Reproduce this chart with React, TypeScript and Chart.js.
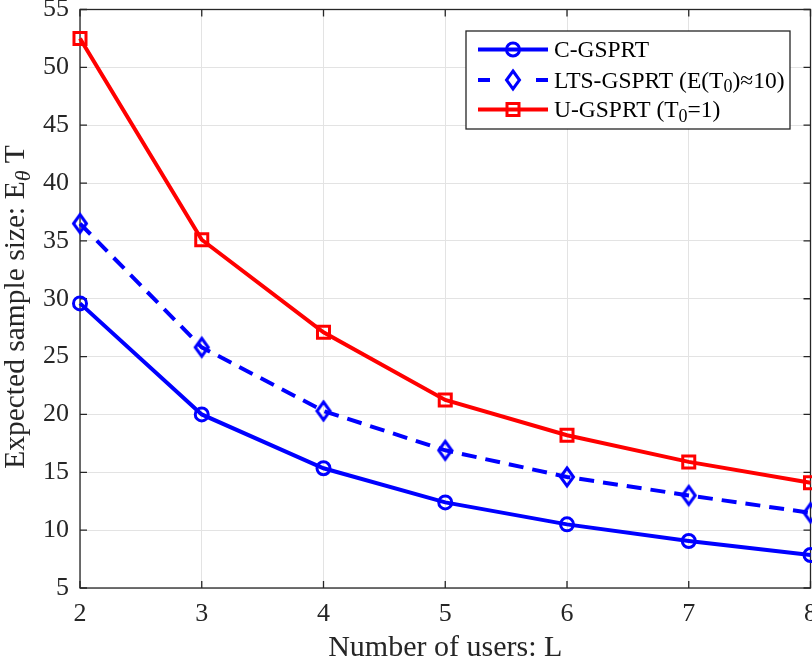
import React, { useEffect, useRef } from "react";
import { Chart, registerables } from "chart.js";

Chart.register(...registerables);

const users = [2, 3, 4, 5, 6, 7, 8];
const cGsprt = [29.6, 20.0, 15.35, 12.4, 10.5, 9.06, 7.85];
const ltsGsprt = [36.5, 25.8, 20.3, 16.9, 14.6, 13.0, 11.5];
const uGsprt = [52.5, 35.1, 27.1, 21.25, 18.2, 15.9, 14.1];
const xTickValues = [2, 3, 4, 5, 6, 7, 8];
const yTickValues = [5, 10, 15, 20, 25, 30, 35, 40, 45, 50, 55];

const FONT = "'Liberation Serif', 'Times New Roman', serif";
const AXIS_COLOR = "#262626";

type Part = { text: string; sub?: boolean; italic?: boolean };

function partFont(p: Part, size: number) {
  const s = p.sub ? Math.round(size * 0.75) : size;
  return `${p.italic ? "italic " : ""}${s}px ${FONT}`;
}

function measureRich(ctx: CanvasRenderingContext2D, parts: Part[], size: number) {
  let w = 0;
  for (const p of parts) {
    ctx.font = partFont(p, size);
    w += ctx.measureText(p.text).width;
  }
  return w;
}

function drawRich(ctx: CanvasRenderingContext2D, parts: Part[], x: number, y: number, size: number) {
  let cx = x;
  ctx.textBaseline = "alphabetic";
  ctx.textAlign = "left";
  for (const p of parts) {
    ctx.font = partFont(p, size);
    ctx.fillText(p.text, cx, p.sub ? y + size * 0.2 : y);
    cx += ctx.measureText(p.text).width;
  }
}

function diamondPath(ctx: CanvasRenderingContext2D, x: number, y: number) {
  ctx.moveTo(x, y - 9);
  ctx.lineTo(x + 6.5, y);
  ctx.lineTo(x, y + 9);
  ctx.lineTo(x - 6.5, y);
  ctx.closePath();
}

function makeDiamondCanvas(color: string) {
  const c = document.createElement("canvas");
  c.width = 22;
  c.height = 28;
  const ctx = c.getContext("2d")!;
  ctx.strokeStyle = color;
  ctx.lineWidth = 3;
  ctx.beginPath();
  diamondPath(ctx, 11, 14);
  ctx.stroke();
  return c;
}

function drawMarker(ctx: CanvasRenderingContext2D, kind: string, x: number, y: number, color: string) {
  ctx.save();
  ctx.strokeStyle = color;
  ctx.lineWidth = 3;
  ctx.setLineDash([]);
  ctx.beginPath();
  if (kind === "circle") {
    ctx.arc(x, y, 6.5, 0, Math.PI * 2);
  } else if (kind === "diamond") {
    diamondPath(ctx, x, y);
  } else {
    ctx.rect(x - 6, y - 6, 12, 12);
  }
  ctx.stroke();
  ctx.restore();
}

const legendItems = [
  { parts: [{ text: "C-GSPRT" }] as Part[], color: "#0000ff", dash: [] as number[], marker: "circle" },
  {
    parts: [{ text: "LTS-GSPRT (E(T" }, { text: "0", sub: true }, { text: ")\u224810)" }] as Part[],
    color: "#0000ff",
    dash: [10, 8],
    marker: "diamond",
  },
  {
    parts: [{ text: "U-GSPRT (T" }, { text: "0", sub: true }, { text: "=1)" }] as Part[],
    color: "#ff0000",
    dash: [] as number[],
    marker: "square",
  },
];

const decorPlugin = {
  id: "decor",
  beforeDatasetsDraw(chart: any) {
    const ctx: CanvasRenderingContext2D = chart.ctx;
    const { left, right, top, bottom } = chart.chartArea;
    const xs = chart.scales.x;
    const ys = chart.scales.y;
    ctx.save();
    ctx.strokeStyle = AXIS_COLOR;
    ctx.lineWidth = 1.3;
    ctx.strokeRect(left, top, right - left, bottom - top);
    const tl = 7;
    ctx.beginPath();
    for (const v of yTickValues) {
      const py = ys.getPixelForValue(v);
      ctx.moveTo(left, py);
      ctx.lineTo(left + tl, py);
      ctx.moveTo(right, py);
      ctx.lineTo(right - tl, py);
    }
    for (const v of xTickValues) {
      const px = xs.getPixelForValue(v);
      ctx.moveTo(px, bottom);
      ctx.lineTo(px, bottom - tl);
      ctx.moveTo(px, top);
      ctx.lineTo(px, top + tl);
    }
    ctx.stroke();
    ctx.restore();
  },
  afterDatasetsDraw(chart: any) {
    const ctx: CanvasRenderingContext2D = chart.ctx;
    const { left, right, top, bottom } = chart.chartArea;
    ctx.save();
    // Legend
    const lx = 466, ly = 31, lw = 324, lh = 98;
    ctx.fillStyle = "#ffffff";
    ctx.fillRect(lx, ly, lw, lh);
    ctx.strokeStyle = AXIS_COLOR;
    ctx.lineWidth = 1.3;
    ctx.strokeRect(lx, ly, lw, lh);
    const rows = [49.5, 80, 109.5];
    legendItems.forEach((it, i) => {
      const ry = rows[i];
      ctx.save();
      ctx.strokeStyle = it.color;
      ctx.lineWidth = 4;
      ctx.beginPath();
      if (it.dash.length) {
        ctx.moveTo(478, ry);
        ctx.lineTo(490, ry);
        ctx.moveTo(536, ry);
        ctx.lineTo(548, ry);
      } else {
        ctx.moveTo(478, ry);
        ctx.lineTo(548, ry);
      }
      ctx.stroke();
      ctx.restore();
      drawMarker(ctx, it.marker, 513, ry, it.color);
      ctx.fillStyle = "#000000";
      drawRich(ctx, it.parts, 554, ry + 7.5, 23.5);
    });
    // X title
    ctx.fillStyle = AXIS_COLOR;
    ctx.font = `30px ${FONT}`;
    ctx.textAlign = "center";
    ctx.textBaseline = "alphabetic";
    ctx.fillText("Number of users: L", (left + right) / 2, 656);
    // Y title
    const yParts: Part[] = [
      { text: "Expected sample size: E" },
      { text: "\u03b8", sub: true, italic: true },
      { text: " T" },
    ];
    const w = measureRich(ctx, yParts, 29.5);
    ctx.translate(24, 307);
    ctx.rotate(-Math.PI / 2);
    drawRich(ctx, yParts, -w / 2, 0, 29.5);
    ctx.restore();
  },
};

export default function App() {
  const ref = useRef<HTMLCanvasElement | null>(null);
  useEffect(() => {
    if (!ref.current) return;
    const mk = (arr: number[]) => users.map((u, i) => ({ x: u, y: arr[i] }));
    const diamond = makeDiamondCanvas("#0000ff");
    const chart = new Chart(ref.current, {
      type: "line",
      data: {
        datasets: [
          {
            label: "C-GSPRT",
            data: mk(cGsprt),
            borderColor: "#0000ff",
            backgroundColor: "rgba(0,0,0,0)",
            borderWidth: 4,
            pointStyle: "circle",
            pointRadius: 6.5,
            pointBorderWidth: 3,
            pointBorderColor: "#0000ff",
            pointBackgroundColor: "rgba(0,0,0,0)",
            tension: 0,
            clip: false as any,
          },
          {
            label: "LTS-GSPRT",
            data: mk(ltsGsprt),
            borderColor: "#0000ff",
            backgroundColor: "rgba(0,0,0,0)",
            borderWidth: 4,
            borderDash: [15, 9],
            pointStyle: diamond as any,
            pointRadius: 9,
            tension: 0,
            clip: false as any,
          },
          {
            label: "U-GSPRT",
            data: mk(uGsprt),
            borderColor: "#ff0000",
            backgroundColor: "rgba(0,0,0,0)",
            borderWidth: 4,
            pointStyle: "rect",
            pointRadius: 8.5,
            pointBorderWidth: 3,
            pointBorderColor: "#ff0000",
            pointBackgroundColor: "rgba(0,0,0,0)",
            tension: 0,
            clip: false as any,
          },
        ],
      },
      options: {
        responsive: false,
        animation: false,
        layout: { autoPadding: false, padding: { top: 9.5, right: 1.5, left: 0, bottom: 0 } },
        plugins: { legend: { display: false }, tooltip: { enabled: false } },
        scales: {
          x: {
            type: "linear",
            min: 2,
            max: 8,
            afterBuildTicks: (s: any) => {
              s.ticks = xTickValues.map((v) => ({ value: v }));
            },
            ticks: {
              font: { family: FONT, size: 26 },
              color: AXIS_COLOR,
              padding: 11,
              maxRotation: 0,
            },
            grid: { color: "#e3e3e3", lineWidth: 1, drawTicks: false },
            border: { display: false },
            afterFit: (s: any) => {
              s.height = 73;
              s.paddingLeft = 0;
              s.paddingRight = 0;
            },
          },
          y: {
            type: "linear",
            min: 5,
            max: 55,
            afterBuildTicks: (s: any) => {
              s.ticks = yTickValues.map((v) => ({ value: v }));
            },
            ticks: {
              font: { family: FONT, size: 26 },
              color: AXIS_COLOR,
              padding: 11,
            },
            grid: { color: "#e3e3e3", lineWidth: 1, drawTicks: false },
            border: { display: false },
            afterFit: (s: any) => {
              s.width = 80;
              s.paddingTop = 0;
              s.paddingBottom = 0;
            },
          },
        },
      },
      plugins: [decorPlugin],
    });
    return () => chart.destroy();
  }, []);
  return (
    <div style={{ position: "absolute", left: 0, top: 0, width: 812, height: 661, background: "#fff" }}>
      <canvas ref={ref} width={812} height={661} style={{ display: "block" }} />
    </div>
  );
}
